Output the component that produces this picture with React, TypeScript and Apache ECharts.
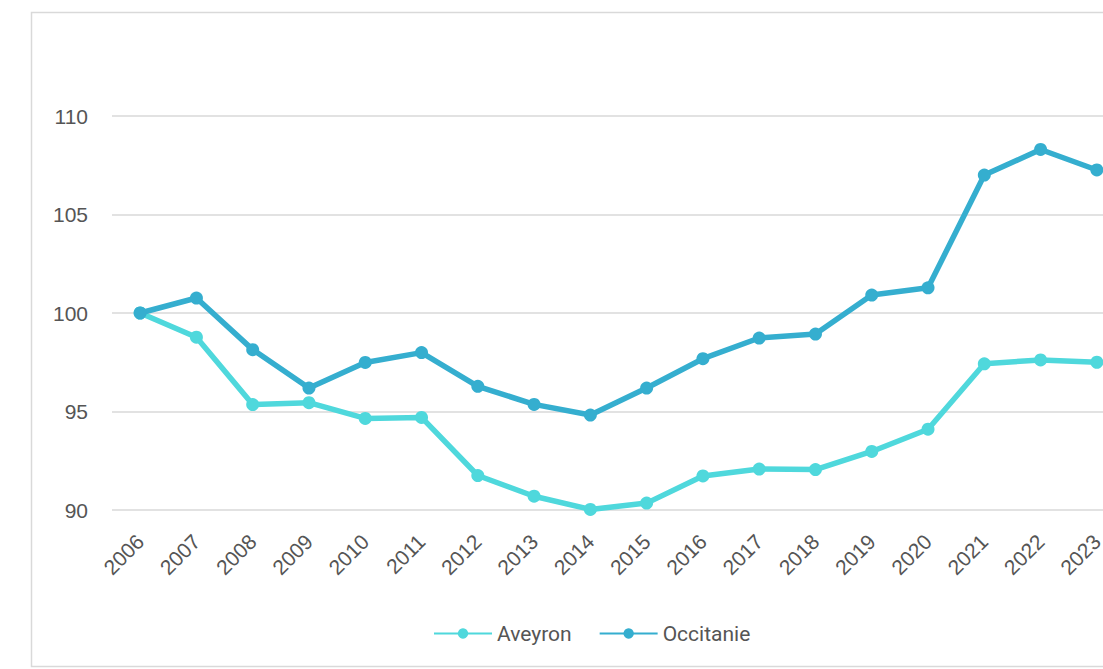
import React, { useEffect, useRef } from "react";
import * as echarts from "echarts";

const years = ["2006","2007","2008","2009","2010","2011","2012","2013","2014","2015","2016","2017","2018","2019","2020","2021","2022","2023"];
const aveyron = [100, 98.77, 95.35, 95.45, 94.65, 94.7, 91.75, 90.7, 90.03, 90.35, 91.73, 92.08, 92.05, 92.97, 94.1, 97.42, 97.62, 97.5];
const occitanie = [100, 100.76, 98.14, 96.19, 97.49, 97.99, 96.28, 95.36, 94.82, 96.19, 97.68, 98.73, 98.93, 100.91, 101.28, 107.0, 108.3, 107.26];
const yTicks = { min: 90, max: 110, interval: 5 };

export default function App() {
  const ref = useRef<HTMLDivElement>(null);
  useEffect(() => {
    if (!ref.current) return;
    const chart = echarts.init(ref.current, null, { renderer: "svg" });
    const labelColor = "#555555";
    chart.setOption({
      animation: false,
      backgroundColor: "#ffffff",
      graphic: [
        {
          type: "rect",
          shape: { x: 31.5, y: 12.5, width: 1110, height: 654 },
          style: { fill: "none", stroke: "#d9d9d9", lineWidth: 1.5 },
          silent: true,
          z: -1,
        },
      ],
      grid: { left: 112, top: 116, width: 1013, height: 394, containLabel: false },
      legend: {
        top: 623,
        left: 433,
        padding: 0,
        itemWidth: 58,
        itemHeight: 13,
        itemGap: 27,
        textStyle: { color: labelColor, fontSize: 21, fontFamily: "Roboto" },
        data: ["Aveyron", "Occitanie"],
      },
      xAxis: {
        type: "category",
        data: years,
        boundaryGap: true,
        axisLine: { show: false },
        axisTick: { show: false },
        axisLabel: {
          rotate: 45,
          color: labelColor,
          fontSize: 21,
          fontFamily: "Liberation Sans",
          margin: 28,
          interval: 0,
        },
      },
      yAxis: {
        type: "value",
        min: yTicks.min,
        max: yTicks.max,
        interval: yTicks.interval,
        axisLine: { show: false },
        axisTick: { show: false },
        axisLabel: { color: labelColor, fontSize: 21, fontFamily: "Liberation Sans", margin: 24 },
        splitLine: { lineStyle: { color: "#d9d9d9", width: 1.5 } },
      },
      series: [
        {
          name: "Aveyron",
          type: "line",
          data: aveyron,
          color: "#4fd8dc",
          symbol: "circle",
          symbolSize: 13,
          lineStyle: { width: 5.5, color: "#4fd8dc" },
          itemStyle: { color: "#4fd8dc" },
          z: 2,
        },
        {
          name: "Occitanie",
          type: "line",
          data: occitanie,
          color: "#35aecf",
          symbol: "circle",
          symbolSize: 13,
          lineStyle: { width: 5.5, color: "#35aecf" },
          itemStyle: { color: "#35aecf" },
          z: 3,
        },
      ],
    });
    return () => chart.dispose();
  }, []);
  return (
    <div style={{ position: "fixed", left: 0, top: 0, width: 1103, height: 669, overflow: "hidden", background: "#fff" }}>
      <div ref={ref} style={{ width: 1160, height: 669 }} />
    </div>
  );
}
